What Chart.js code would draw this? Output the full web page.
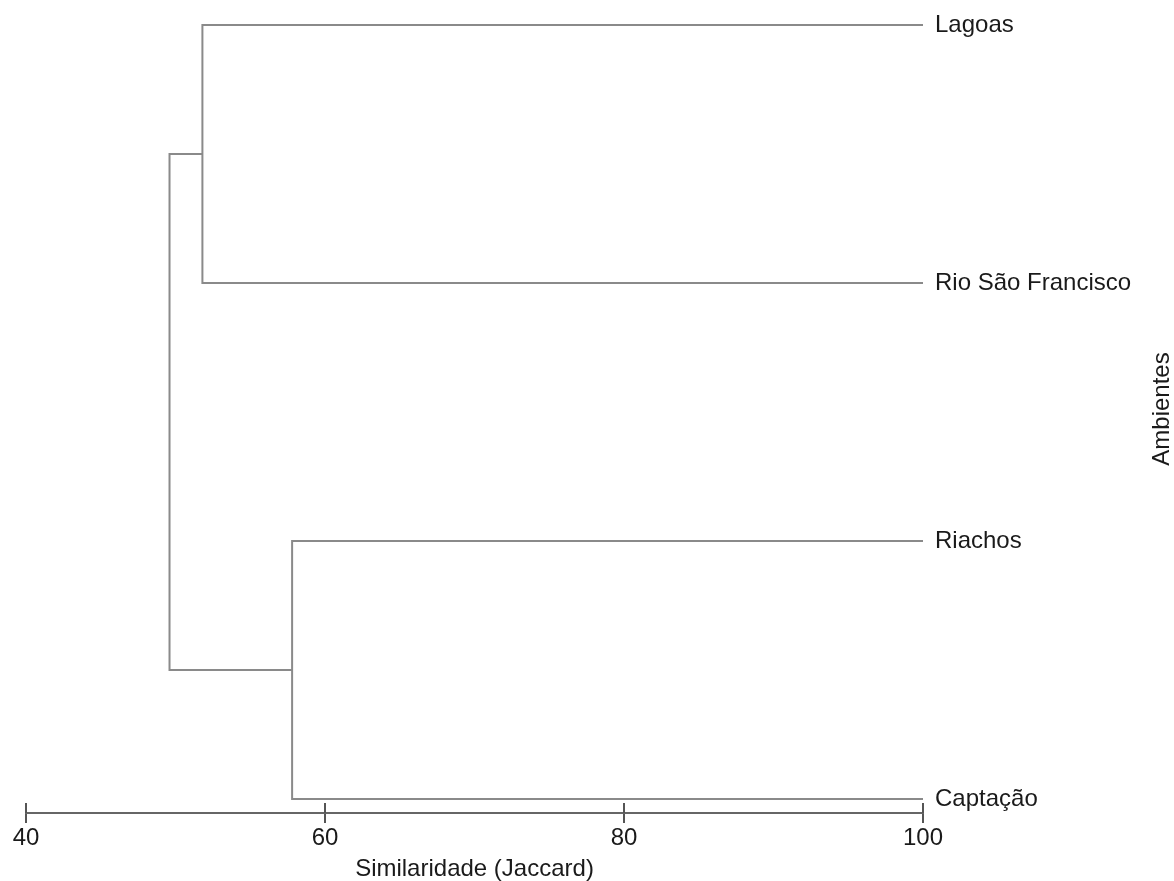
<!DOCTYPE html>
<html>
<head>
<meta charset="utf-8">
<title>Dendrograma – Similaridade (Jaccard)</title>
<script src="https://cdn.jsdelivr.net/npm/chart.js@4/dist/chart.umd.min.js"></script>
<style>
  html, body { margin: 0; padding: 0; background: #ffffff; }
  #wrap { width: 1174px; height: 881px; }
</style>
</head>
<body>
<div id="wrap"><canvas id="chart" width="1174" height="881"></canvas></div>
<script>
// Leaves of the dendrogram, top to bottom
const leafNames = ['Lagoas', 'Rio São Francisco', 'Riachos', 'Captação'];
// Leaves sit at 100 % similarity
const leafSimilarity = 100;
// Agglomeration steps: node ids 0..3 are leaves, 4.. are the clusters formed here
const mergeLeft = [0, 2, 4];
const mergeRight = [1, 3, 5];
const mergeSimilarity = [51.8, 57.8, 49.6];
// X axis ticks
const xTicks = [40, 60, 80, 100];

const FONT = "'Liberation Sans', Arial, Helvetica, sans-serif";
const LINE = '#8a8a8a';
const INK = '#1a1a1a';

// Node positions: x = similarity, y = leaf index (mean of children for clusters)
const nodeX = leafNames.map(() => leafSimilarity);
const nodeY = leafNames.map((_, i) => i);
const datasets = mergeSimilarity.map((s, k) => {
  const a = mergeLeft[k], b = mergeRight[k];
  nodeX.push(s);
  nodeY.push((nodeY[a] + nodeY[b]) / 2);
  return {
    data: [
      { x: nodeX[a], y: nodeY[a] },
      { x: s, y: nodeY[a] },
      { x: s, y: nodeY[b] },
      { x: nodeX[b], y: nodeY[b] }
    ],
    showLine: true,
    borderColor: LINE,
    borderWidth: 2,
    pointRadius: 0,
    pointHoverRadius: 0,
    fill: false,
    tension: 0
  };
});

// Short tick marks above the axis line, plus the rotated y-axis title
const axisExtras = {
  id: 'axisExtras',
  afterDraw(chart) {
    const ctx = chart.ctx;
    const xs = chart.scales.x;
    const bottom = chart.chartArea.bottom;
    ctx.save();
    ctx.strokeStyle = '#555555';
    ctx.lineWidth = 2;
    xs.ticks.forEach(t => {
      const px = Math.round(xs.getPixelForValue(t.value));
      ctx.beginPath();
      ctx.moveTo(px, bottom - 10);
      ctx.lineTo(px, bottom);
      ctx.stroke();
    });
    ctx.restore();

    ctx.save();
    ctx.fillStyle = INK;
    ctx.font = '24px ' + FONT;
    ctx.textAlign = 'center';
    ctx.textBaseline = 'alphabetic';
    ctx.translate(1169, 409);
    ctx.rotate(-Math.PI / 2);
    ctx.fillText('Ambientes', 0, 0);
    ctx.restore();
  }
};

new Chart(document.getElementById('chart'), {
  type: 'scatter',
  data: { datasets },
  options: {
    responsive: false,
    animation: false,
    devicePixelRatio: 1,
    layout: { padding: { left: 26, right: 0, top: 0, bottom: 0 } },
    plugins: {
      legend: { display: false },
      tooltip: { enabled: false }
    },
    scales: {
      x: {
        type: 'linear',
        position: 'bottom',
        min: 40,
        max: 100,
        afterBuildTicks: s => { s.ticks = xTicks.map(v => ({ value: v })); },
        afterFit: s => { s.height = 68; s.paddingLeft = 0; s.paddingRight = 0; },
        border: { display: true, color: '#666666', width: 2 },
        grid: {
          display: true,
          drawOnChartArea: false,
          drawTicks: true,
          tickLength: 10,
          color: '#555555',
          lineWidth: 2
        },
        ticks: {
          color: INK,
          font: { family: FONT, size: 24 },
          padding: 1,
          maxRotation: 0
        },
        title: {
          display: true,
          text: 'Similaridade (Jaccard)',
          color: INK,
          font: { family: FONT, size: 24, lineHeight: 1 },
          padding: { top: 0, bottom: 0 }
        }
      },
      y: {
        type: 'linear',
        position: 'right',
        reverse: true,
        min: -25 / 258,
        max: 3 + 14 / 258,
        afterBuildTicks: s => { s.ticks = leafNames.map((_, i) => ({ value: i })); },
        afterFit: s => { s.width = 251; s.paddingTop = 0; s.paddingBottom = 0; },
        border: { display: false },
        grid: { display: false, drawTicks: false },
        ticks: {
          color: INK,
          font: { family: FONT, size: 24 },
          padding: 12,
          callback: v => leafNames[v]
        }
      }
    }
  },
  plugins: [axisExtras]
});
</script>
</body>
</html>
